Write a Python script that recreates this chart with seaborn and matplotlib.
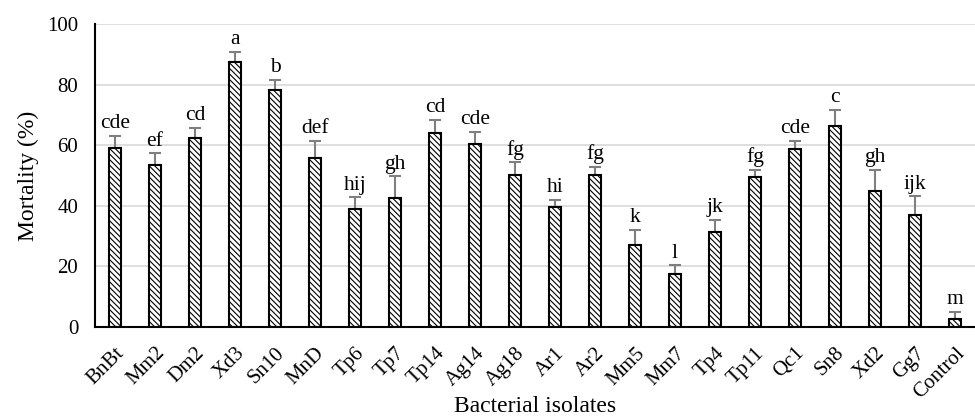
import matplotlib
matplotlib.use("Agg")
import matplotlib.pyplot as plt
import seaborn as sns
import pandas as pd
import numpy as np

isolates = ["BnBt", "Mm2", "Dm2", "Xd3", "Sn10", "MnD", "Tp6", "Tp7", "Tp14", "Ag14",
            "Ag18", "Ar1", "Ar2", "Mm5", "Mm7", "Tp4", "Tp11", "Qc1", "Sn8", "Xd2",
            "Gg7", "Control"]
mortality = [59.0, 53.4, 62.4, 87.6, 78.1, 55.9, 38.9, 42.6, 63.9, 60.3,
             50.3, 39.6, 50.3, 27.0, 17.6, 31.3, 49.5, 58.8, 66.2, 44.9,
             37.0, 2.5]
error = [4.0, 3.9, 3.4, 3.3, 3.5, 5.6, 3.9, 7.1, 4.4, 4.1,
         4.0, 2.3, 2.5, 5.1, 2.8, 4.1, 2.3, 2.7, 5.5, 6.9,
         6.1, 2.5]
letters = ["cde", "ef", "cd", "a", "b", "def", "hij", "gh", "cd", "cde",
           "fg", "hi", "fg", "k", "l", "jk", "fg", "cde", "c", "gh",
           "ijk", "m"]

df = pd.DataFrame({"isolate": isolates, "mortality": mortality})

sns.set_theme(style="white")
plt.rcParams["font.family"] = ["Liberation Serif", "DejaVu Serif"]
plt.rcParams["hatch.linewidth"] = 0.8
plt.rcParams["hatch.color"] = "black"

fig = plt.figure(figsize=(9.75, 4.17), dpi=100)
ax = fig.add_axes([0.0974, 0.2158, 0.9026, 0.7266])

sns.barplot(data=df, x="isolate", y="mortality", ax=ax, color="white",
            edgecolor="black", linewidth=1.5, width=0.32, errorbar=None,
            hatch="\\\\\\\\\\\\", zorder=3)

xpos = np.arange(len(isolates))
ax.errorbar(xpos, mortality, yerr=[np.zeros(len(error)), error], fmt="none",
            ecolor="#7f7f7f", elinewidth=1.5, capsize=4, capthick=1.5, zorder=2)

for x, m, e, lab in zip(xpos, mortality, error, letters):
    ax.annotate(lab, (x, m + e), xytext=(0, 5.5), textcoords="offset points",
                ha="center", va="baseline", fontsize=15.5, color="black")

ax.set_ylim(0, 100)
ax.set_xlim(-0.5, len(isolates) - 0.5)
ax.set_yticks([0, 20, 40, 60, 80, 100])
ax.yaxis.grid(True, color="#d9d9d9", linewidth=1.2, zorder=0)
ax.set_axisbelow(True)
for s in ["top", "right"]:
    ax.spines[s].set_visible(False)
for s in ["left", "bottom"]:
    ax.spines[s].set_color("black")
    ax.spines[s].set_linewidth(1.5)
    ax.spines[s].set_zorder(4)

ax.tick_params(axis="y", length=0, pad=12, labelsize=15, colors="black")
ax.tick_params(axis="x", length=0, pad=12, labelsize=15, colors="black")
plt.setp(ax.get_xticklabels(), rotation=45, ha="right", rotation_mode="anchor")

ax.set_ylabel("Mortality (%)", fontsize=17, color="black", labelpad=6)
ax.set_xlabel("Bacterial isolates", fontsize=17, color="black")
ax.xaxis.set_label_coords(0.5, -0.262)
ax.xaxis.label.set_va("center")

fig.savefig("out.png", dpi=100)
